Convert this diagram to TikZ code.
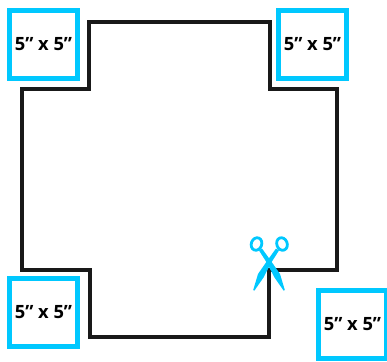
\documentclass[tikz,border=0pt]{standalone}
\usepackage{fontspec}
\setmainfont{Open Sans}
\definecolor{cutblue}{HTML}{00C8FF}
\newcommand{\sizelabel}{5\symbol{34} x 5\symbol{34}}
\tikzset{
    x=1pt, y=-1pt,
    every node/.style={font=\bfseries\fontsize{18.3}{20}\selectfont, text=black},
    swatch/.style={draw=cutblue, line width=4.6pt, fill=white, minimum size=68.5pt, inner sep=0pt}, % the corner squares
    outline/.style={draw=black!90, line width=3.6pt, line join=miter}, % the cut shape
    blade/.style={fill=cutblue, draw=none},
    ring/.style={draw=cutblue, line width=2.8pt, fill=none},
}
\begin{document}
\begin{tikzpicture}
    \useasboundingbox (0,0) rectangle (387,361);
    \fill[white] (0,0) rectangle (387,361);
    \draw[outline] (89,22) -- (270,22) -- (270,89) -- (337,89) -- (337,270) -- (269,270)
        -- (269,337) -- (90,337) -- (90,270) -- (22,270) -- (22,89) -- (89,89) -- cycle;
    \node[swatch] (topleft) at (43.5,44.5) {\sizelabel};
    \node[swatch] (topright) at (312.5,44.5) {\sizelabel};
    \node[swatch] (bottomleft) at (43.5,312.5) {\raisebox{-2pt}{\sizelabel}\hspace{2pt}};
    \node[swatch] (bottomright) at (352.5,324.5) {\raisebox{2pt}{\sizelabel}};
    % scissors
    \fill[blade] (259,250.5) -- (262,248.5) -- (271,261) -- (280,274) -- (284.8,290) -- (283.6,290.6) -- (274.5,277.5) -- (267,263) -- cycle;
    \fill[blade] (279,250.5) -- (276,248.5) -- (267,261) -- (258,274) -- (253.2,290) -- (254.4,290.6) -- (263.5,277.5) -- (271,263) -- cycle;
    \draw[ring, rotate around={-20:(256.5,244)}] (256.5,244) ellipse (5.2pt and 6.4pt);
    \draw[ring, rotate around={20:(282,244)}] (282,244) ellipse (5.2pt and 6.4pt);
\end{tikzpicture}
\end{document}
